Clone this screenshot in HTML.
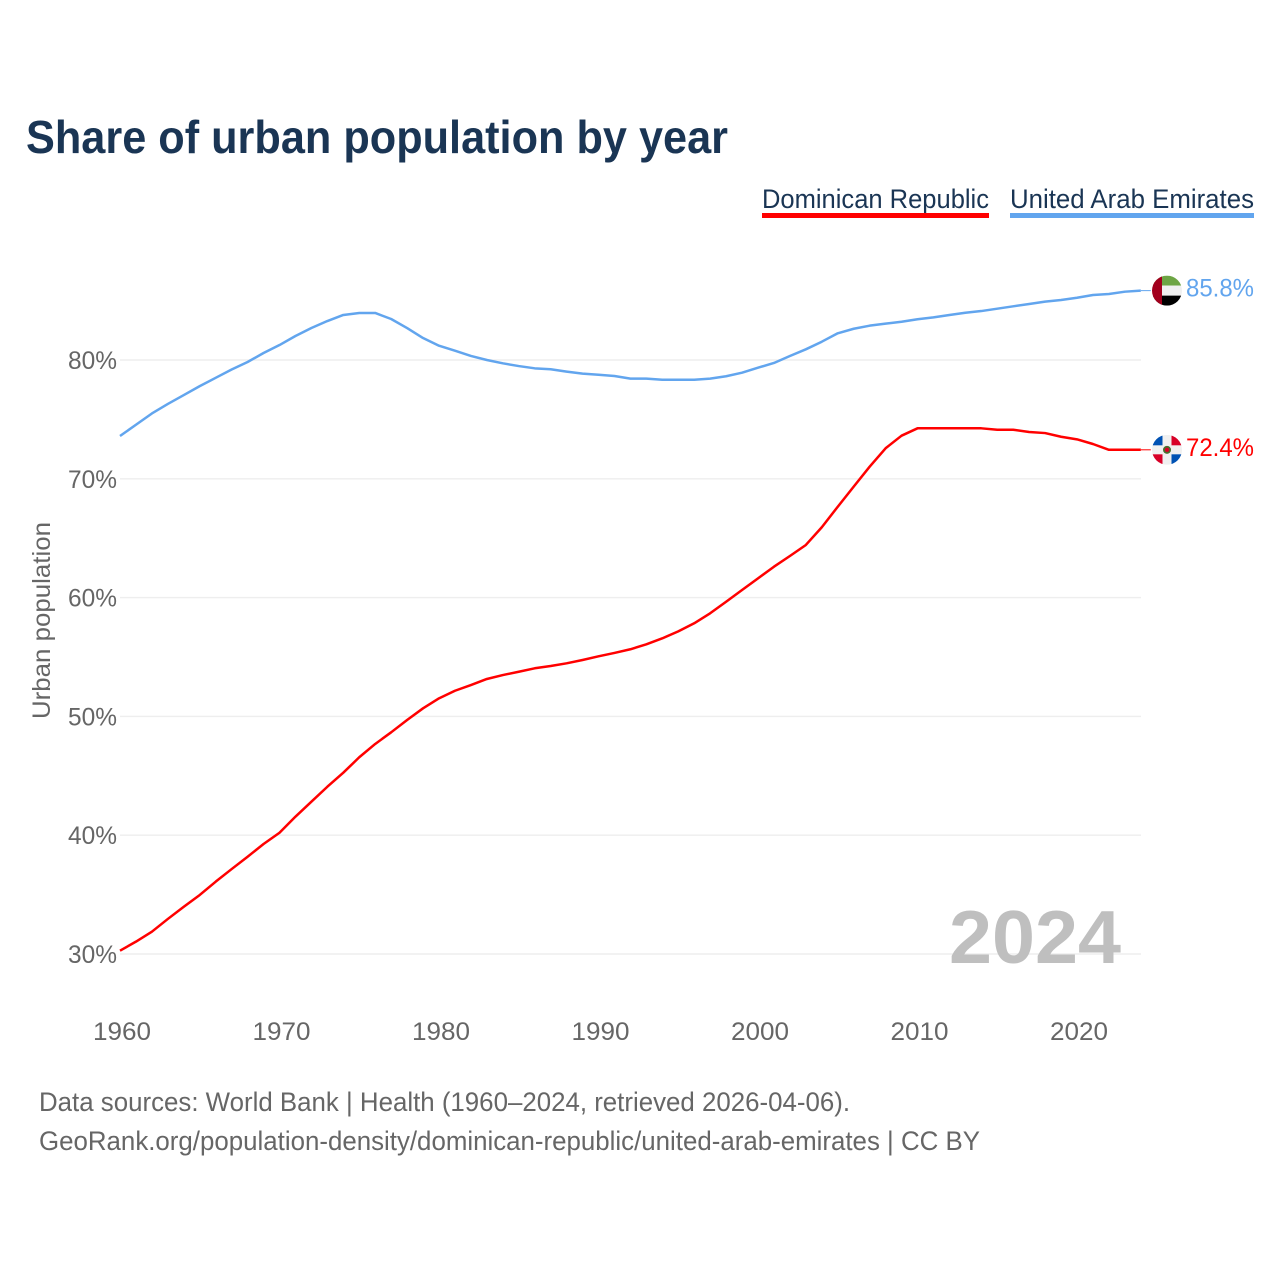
<!DOCTYPE html>
<html lang="en">
<head>
<meta charset="utf-8">
<title>Share of urban population by year</title>
<style>
html,body{margin:0;padding:0;background:#fff;}
svg{display:block;}
text{font-family:"Liberation Sans",sans-serif;}
</style>
</head>
<body>
<svg id="chart" xmlns="http://www.w3.org/2000/svg" width="1280" height="1280" viewBox="0 0 1280 1280">
  <rect x="0" y="0" width="1280" height="1280" fill="#ffffff"/>
  <text x="26" y="153" font-size="46" font-weight="700" fill="#1a3554" textLength="702" lengthAdjust="spacingAndGlyphs">Share of urban population by year</text>

  <g>
    <text x="762" y="208" font-size="27" fill="#1a3554" textLength="227" lengthAdjust="spacingAndGlyphs">Dominican Republic</text>
    <rect x="762" y="213" width="227" height="5" fill="#ff0000"/>
  </g>
  <g>
    <text x="1010" y="208" font-size="27" fill="#1a3554" textLength="244" lengthAdjust="spacingAndGlyphs">United Arab Emirates</text>
    <rect x="1010" y="213" width="244" height="5" fill="#62a5ee"/>
  </g>

  <g id="grid"></g>
  <g id="y-ticks"></g>
  <g id="x-ticks"></g>

  <text transform="translate(50 620.5) rotate(-90)" text-anchor="middle" font-size="25" fill="#666666" textLength="197" lengthAdjust="spacingAndGlyphs">Urban population</text>

  <text x="949" y="963" font-size="75" font-weight="700" fill="#bfbfbf" textLength="172" lengthAdjust="spacingAndGlyphs">2024</text>

  <g id="series"></g>

  <defs>
    <clipPath id="flag-clip-uae"><circle cx="0" cy="0" r="15"/></clipPath>
    <clipPath id="flag-clip-dr"><circle cx="0" cy="0" r="15"/></clipPath>
  </defs>

  <g id="flag-uae">
    <g clip-path="url(#flag-clip-uae)">
      <rect x="-15" y="-15" width="30" height="10" fill="#6da544"/>
      <rect x="-15" y="-5" width="30" height="10" fill="#f0f0f0"/>
      <rect x="-15" y="5" width="30" height="10" fill="#000000"/>
      <rect x="-15" y="-15" width="10" height="30" fill="#a2001d"/>
    </g>
  </g>
  <g id="flag-dr">
    <g clip-path="url(#flag-clip-dr)">
      <rect x="-15" y="-15" width="30" height="30" fill="#f0f0f0"/>
      <rect x="-15" y="-15" width="10.5" height="10.5" fill="#0052b4"/>
      <rect x="4.5" y="-15" width="10.5" height="10.5" fill="#d80027"/>
      <rect x="-15" y="4.5" width="10.5" height="10.5" fill="#d80027"/>
      <rect x="4.5" y="4.5" width="10.5" height="10.5" fill="#0052b4"/>
      <circle cx="0" cy="0" r="4" fill="#496e2d"/>
      <circle cx="0" cy="0" r="2.2" fill="#d80027"/>
    </g>
  </g>

  <g id="end-labels"></g>

  <text x="39" y="1111" font-size="26.5" fill="#666666" textLength="811" lengthAdjust="spacingAndGlyphs">Data sources: World Bank | Health (1960–2024, retrieved 2026-04-06).</text>
  <text x="39" y="1150" font-size="26.5" fill="#666666" textLength="941" lengthAdjust="spacingAndGlyphs">GeoRank.org/population-density/dominican-republic/united-arab-emirates | CC BY</text>
</svg>

<script>
const firstYear = 1960;
const yTickValues = [30, 40, 50, 60, 70, 80];
const xTickValues = [1960, 1970, 1980, 1990, 2000, 2010, 2020];
const dominicanRepublic = [
  30.28, 31.04, 31.88, 32.95, 33.98, 34.97, 36.09, 37.15, 38.19, 39.26,
  40.21, 41.56, 42.82, 44.08, 45.26, 46.56, 47.68, 48.66, 49.70, 50.68,
  51.52, 52.16, 52.64, 53.15, 53.48, 53.76, 54.05, 54.24, 54.47, 54.75,
  55.06, 55.34, 55.65, 56.07, 56.57, 57.16, 57.84, 58.68, 59.65, 60.64,
  61.62, 62.60, 63.50, 64.43, 65.92, 67.65, 69.34, 71.02, 72.57, 73.63,
  74.25, 74.25, 74.25, 74.25, 74.25, 74.13, 74.13, 73.94, 73.85, 73.54,
  73.32, 72.93, 72.44, 72.44, 72.44
];
const unitedArabEmirates = [
  73.60, 74.55, 75.50, 76.30, 77.05, 77.80, 78.50, 79.20, 79.83, 80.59,
  81.26, 82.02, 82.69, 83.28, 83.79, 83.96, 83.96, 83.45, 82.69, 81.85,
  81.20, 80.78, 80.34, 80.00, 79.72, 79.49, 79.30, 79.22, 79.02, 78.85,
  78.76, 78.65, 78.43, 78.43, 78.34, 78.34, 78.34, 78.43, 78.63, 78.93,
  79.35, 79.75, 80.34, 80.90, 81.54, 82.25, 82.63, 82.89, 83.06, 83.22,
  83.43, 83.59, 83.79, 83.98, 84.12, 84.32, 84.52, 84.71, 84.91, 85.05,
  85.24, 85.47, 85.56, 85.75, 85.84
];

const SVG_NS = 'http://www.w3.org/2000/svg';

function xScale(year) {
  return 120 + (year - 1960) * 15.95;
}
function yScale(value) {
  return 954 - (value - 30) * 11.88;
}
function svgEl(tag, parentId) {
  const el = document.createElementNS(SVG_NS, tag);
  document.getElementById(parentId).appendChild(el);
  return el;
}

yTickValues.forEach(function (value) {
  const line = svgEl('line', 'grid');
  
  
  line.setAttribute('x1', 120);
  line.setAttribute('x2', 1141);
  line.setAttribute('y1', yScale(value));
  line.setAttribute('y2', yScale(value));
  line.setAttribute('stroke', '#eeeeee');
  line.setAttribute('stroke-width', '1.4');

  const label = svgEl('text', 'y-ticks');
  
  
  label.setAttribute('x', 68);
  label.setAttribute('y', yScale(value) + 9);
  label.setAttribute('font-size', '25');
  label.setAttribute('fill', '#666666');
  label.setAttribute('textLength', '49');
  label.setAttribute('lengthAdjust', 'spacingAndGlyphs');
  label.textContent = value + '%';
});

xTickValues.forEach(function (year) {
  const label = svgEl('text', 'x-ticks');
  
  
  label.setAttribute('x', xScale(year) - 27);
  label.setAttribute('y', 1040);
  label.setAttribute('font-size', '25');
  label.setAttribute('fill', '#666666');
  label.setAttribute('textLength', '58');
  label.setAttribute('lengthAdjust', 'spacingAndGlyphs');
  label.textContent = String(year);
});

function drawSeries(values, colour, flagId, labelX) {
  const points = values.map(function (value, i) {
    return xScale(firstYear + i).toFixed(2) + ',' + yScale(value).toFixed(2);
  }).join(' ');
  const path = svgEl('polyline', 'series');
  
  
  path.setAttribute('points', points);
  path.setAttribute('fill', 'none');
  path.setAttribute('stroke', colour);
  path.setAttribute('stroke-width', '2.5');
  path.setAttribute('stroke-linejoin', 'round');

  const lastValue = values[values.length - 1];
  const lastX = xScale(firstYear + values.length - 1);
  const lastY = yScale(lastValue);

  const connector = svgEl('line', 'series');
  
  
  connector.setAttribute('x1', lastX);
  connector.setAttribute('x2', lastX + 10);
  connector.setAttribute('y1', lastY);
  connector.setAttribute('y2', lastY);
  connector.setAttribute('stroke', colour);
  connector.setAttribute('stroke-width', '1');

  document.getElementById(flagId).setAttribute('transform', 'translate(1167 ' + lastY + ')');

  const label = svgEl('text', 'end-labels');
  
  
  label.setAttribute('x', labelX);
  label.setAttribute('y', lastY + 6);
  label.setAttribute('font-size', '25');
  label.setAttribute('fill', colour);
  label.setAttribute('textLength', '68');
  label.setAttribute('lengthAdjust', 'spacingAndGlyphs');
  label.textContent = lastValue.toFixed(1) + '%';
}

drawSeries(unitedArabEmirates, '#62a5ee', 'flag-uae', 1186);
drawSeries(dominicanRepublic, '#ff0000', 'flag-dr', 1186);
</script>
</body>
</html>
